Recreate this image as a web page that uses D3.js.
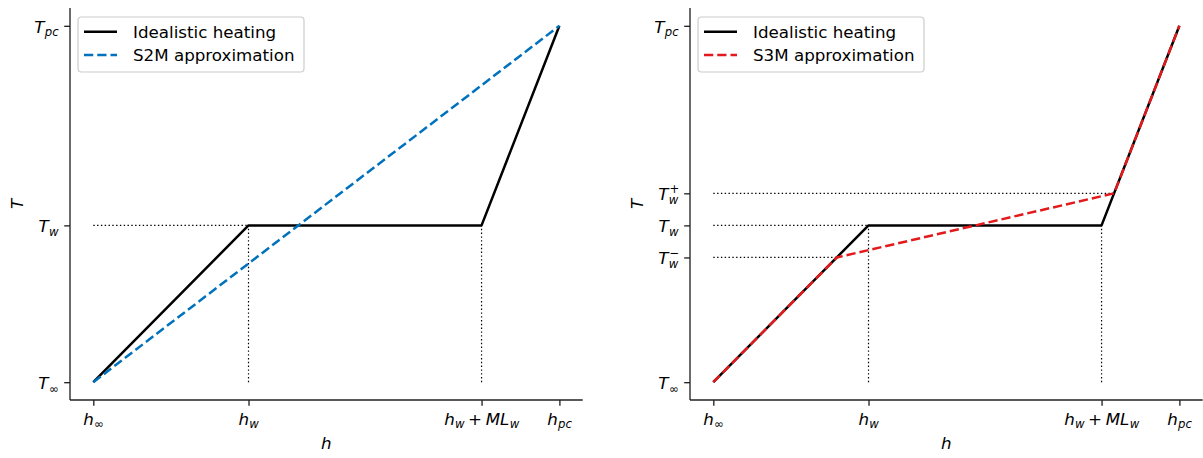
<!DOCTYPE html>
<html>
<head>
<meta charset="utf-8">
<script src="https://cdn.jsdelivr.net/npm/d3@7"></script>
<style>
  html, body { margin: 0; padding: 0; background: #fff; }
  svg { display: block; }
  text { font-family: "DejaVu Sans", sans-serif; fill: #000; }
</style>
</head>
<body>
<svg id="chart" width="1203" height="458"></svg>
<script>
// Normalised enthalpy / temperature break points
const hTickValues = [0, 0.333, 0.833, 1.0];
const hTickLabels = ["h_{∞}", "h_{w}", "h_{w} + ML_{w}", "h_{pc}"];

const tTickValuesS2M = [0, 0.44, 1.0];
const tTickLabelsS2M = ["T_{∞}", "T_{w}", "T_{pc}"];
const tTickValuesS3M = [0, 0.35, 0.44, 0.53, 1.0];
const tTickLabelsS3M = ["T_{∞}", "T_{w}^{−}", "T_{w}", "T_{w}^{+}", "T_{pc}"];

// Idealistic heating curve
const idealH = [0, 0.333, 0.833, 1.0];
const idealT = [0, 0.44, 0.44, 1.0];

// Two-segment-model approximation
const s2mH = [0, 1.0];
const s2mT = [0, 1.0];

// Three-segment-model approximation
const s3mH = [0, 0.265, 0.86, 1.0];
const s3mT = [0, 0.35, 0.53, 1.0];

const seriesNames = ["Idealistic heating", "S2M approximation", "S3M approximation"];
const colors = { ideal: "#000000", s2m: "#0072bd", s3m: "#e31a1c" };

const FS = 16.7;          // base font size (px)
const svg = d3.select("#chart");

// Lay out a tiny math expression such as "T_{w}^{+}" as one text element of tspans.
function mathText(g, src, fs) {
  const atoms = [];
  let i = 0;
  const readGroup = () => {
    if (src[i] === "{") {
      const j = src.indexOf("}", i);
      const s = src.slice(i + 1, j);
      i = j + 1;
      return s;
    }
    return src[i++];
  };
  while (i < src.length) {
    const c = src[i];
    if (c === "_") { i++; atoms[atoms.length - 1].sub = readGroup(); }
    else if (c === "^") { i++; atoms[atoms.length - 1].sup = readGroup(); }
    else { atoms.push({ text: c }); i++; }
  }
  const isLetter = s => /[A-Za-z]/.test(s);
  const text = g.append("text");
  const put = (s, x, y, size) => {
    const t = text.append("tspan")
      .attr("x", x).attr("y", y)
      .attr("font-size", size)
      .attr("font-style", isLetter(s) ? "italic" : "normal")
      .text(s);
    return t.node().getComputedTextLength();
  };
  let x = 0;
  atoms.forEach(a => {
    if (a.text === " ") { x += fs * 0.22; return; }
    x += put(a.text, x, 0, fs);
    let w = 0;
    if (a.sub) w = Math.max(w, put(a.sub, x + fs * 0.02, fs * 0.22, fs * 0.7));
    if (a.sup) w = Math.max(w, put(a.sup, x + fs * 0.06, -fs * 0.42, fs * 0.7));
    x += w;
  });
  return x;
}

function drawPanel(cfg) {
  const x0 = cfg.left, x1 = cfg.left + 512.7, yTop = 8, yBot = 400;
  const x = d3.scaleLinear().domain([-0.05, 1.05]).range([x0, x1]);
  const y = d3.scaleLinear().domain([-0.05, 1.05]).range([yBot, yTop]);
  const g = svg.append("g");

  // dotted guide lines
  const dotted = g.append("g")
    .attr("stroke", "#000").attr("stroke-width", 1.2)
    .attr("stroke-dasharray", "1.4,2.4").attr("fill", "none");
  cfg.hGuides.forEach(([hEnd, t]) => {
    dotted.append("line")
      .attr("x1", x(idealH[0])).attr("x2", x(hEnd))
      .attr("y1", y(t)).attr("y2", y(t));
  });
  cfg.vGuides.forEach(([h, t]) => {
    dotted.append("line")
      .attr("x1", x(h)).attr("x2", x(h))
      .attr("y1", y(idealT[0])).attr("y2", y(t));
  });

  const line = d3.line().x(d => x(d[0])).y(d => y(d[1]));

  g.append("path")
    .datum(d3.zip(idealH, idealT))
    .attr("d", line)
    .attr("fill", "none").attr("stroke", colors.ideal)
    .attr("stroke-width", 2.5).attr("stroke-linejoin", "round");

  g.append("path")
    .datum(d3.zip(cfg.approxH, cfg.approxT))
    .attr("d", line)
    .attr("fill", "none").attr("stroke", cfg.color)
    .attr("stroke-width", 2.5).attr("stroke-dasharray", "9.25,4");

  // axes
  const xAxis = d3.axisBottom(x).tickValues(hTickValues).tickSize(5.8).tickFormat("");
  const yAxis = d3.axisLeft(y).tickValues(cfg.tTicks).tickSize(5.8).tickFormat("");
  const gx = g.append("g").attr("transform", `translate(0,${yBot})`).call(xAxis);
  const gy = g.append("g").attr("transform", `translate(${x0},0)`).call(yAxis);
  [gx, gy].forEach(a => {
    a.select(".domain").attr("stroke", "#222").attr("stroke-width", 1.33);
    a.selectAll(".tick line").attr("stroke", "#222").attr("stroke-width", 1.33);
  });
  gx.select(".domain").attr("d", `M${x0},0H${x1}`);
  gy.select(".domain").attr("d", `M0,${yBot}V${yTop}`);

  // tick labels
  hTickValues.forEach((v, k) => {
    const lg = g.append("g");
    const w = mathText(lg, hTickLabels[k], FS);
    lg.attr("transform", `translate(${x(v) - w / 2},${yBot + 24.5})`);
  });
  cfg.tTicks.forEach((v, k) => {
    const lg = g.append("g");
    const w = mathText(lg, cfg.tLabels[k], FS);
    lg.attr("transform", `translate(${x0 - 11.7 - w},${y(v) + 6.8})`);
  });

  // axis labels
  g.append("text")
    .attr("x", (x0 + x1) / 2).attr("y", 449)
    .attr("text-anchor", "middle").attr("font-size", FS).attr("font-style", "italic")
    .text("h");
  g.append("text")
    .attr("transform", `translate(${x0 - 47},${(yTop + yBot) / 2}) rotate(-90)`)
    .attr("text-anchor", "middle").attr("font-size", FS).attr("font-style", "italic")
    .text("T");

  // legend
  const lx = x0 + 8, ly = 17;
  const leg = g.append("g");
  leg.append("rect")
    .attr("x", lx).attr("y", ly).attr("width", 226).attr("height", 55)
    .attr("rx", 3.5).attr("fill", "#fff").attr("fill-opacity", 0.8)
    .attr("stroke", "#cccccc").attr("stroke-width", 1.2);
  const items = [
    { name: seriesNames[0], color: colors.ideal, dash: null },
    { name: cfg.approxName, color: cfg.color, dash: "9.25,4" }
  ];
  items.forEach((it, k) => {
    const cy = ly + 14.7 + k * 23.3;
    leg.append("line")
      .attr("x1", lx + 6).attr("x2", lx + 39).attr("y1", cy).attr("y2", cy)
      .attr("stroke", it.color).attr("stroke-width", 2.5)
      .attr("stroke-dasharray", it.dash);
    leg.append("text")
      .attr("x", lx + 55).attr("y", cy + 6)
      .attr("font-size", FS).text(it.name);
  });
}

drawPanel({
  left: 70,
  approxH: s2mH, approxT: s2mT, color: colors.s2m, approxName: seriesNames[1],
  tTicks: tTickValuesS2M, tLabels: tTickLabelsS2M,
  hGuides: [[idealH[1], idealT[1]]],
  vGuides: [[idealH[1], idealT[1]], [idealH[2], idealT[2]]]
});

drawPanel({
  left: 690,
  approxH: s3mH, approxT: s3mT, color: colors.s3m, approxName: seriesNames[2],
  tTicks: tTickValuesS3M, tLabels: tTickLabelsS3M,
  hGuides: [[s3mH[1], s3mT[1]], [idealH[1], idealT[1]], [s3mH[2], s3mT[2]]],
  vGuides: [[idealH[1], idealT[1]], [idealH[2], idealT[2]]]
});
</script>
</body>
</html>
